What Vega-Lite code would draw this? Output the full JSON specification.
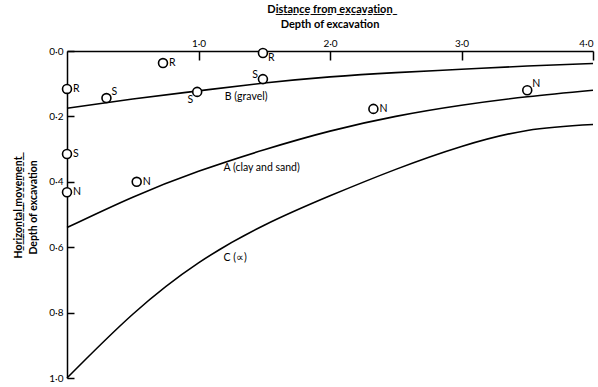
{
  "$schema": "https://vega.github.io/schema/vega-lite/v6.json",
  "width": 526,
  "height": 327,
  "autosize": "none",
  "padding": {"left": 67, "top": 51, "right": 5, "bottom": 9},
  "background": "white",
  "title": {
    "text": "D̲i̲s̲t̲a̲n̲c̲e̲ ̲f̲r̲o̲m̲ ̲e̲x̲c̲a̲v̲a̲t̲i̲o̲n̲",
    "subtitle": "Depth of excavation",
    "anchor": "middle",
    "font": "Lato",
    "fontSize": 11,
    "fontWeight": "bold",
    "subtitleFont": "Lato",
    "subtitleFontSize": 11,
    "subtitleFontWeight": "bold",
    "subtitleColor": "black",
    "subtitlePadding": 4,
    "color": "black",
    "offset": 8
  },
  "config": {
    "view": {"stroke": null},
    "axis": {
      "grid": false,
      "domainColor": "black",
      "domainWidth": 1.5,
      "tickColor": "black",
      "tickWidth": 1.5,
      "labelFont": "Lato",
      "labelFontSize": 10,
      "labelColor": "black",
      "titleFont": "Lato",
      "titleColor": "black"
    }
  },
  "datasets": {
    "curves": [
      {"curve": "B", "x": 0, "y": 0.175},
      {"curve": "B", "x": 0.5, "y": 0.147},
      {"curve": "B", "x": 1.0, "y": 0.122},
      {"curve": "B", "x": 1.5, "y": 0.098},
      {"curve": "B", "x": 2.0, "y": 0.079},
      {"curve": "B", "x": 2.5, "y": 0.066},
      {"curve": "B", "x": 3.0, "y": 0.056},
      {"curve": "B", "x": 3.5, "y": 0.046},
      {"curve": "B", "x": 4.0, "y": 0.038},
      {"curve": "A", "x": 0, "y": 0.54},
      {"curve": "A", "x": 0.5, "y": 0.447},
      {"curve": "A", "x": 1.0, "y": 0.368},
      {"curve": "A", "x": 1.5, "y": 0.302},
      {"curve": "A", "x": 2.0, "y": 0.245},
      {"curve": "A", "x": 2.5, "y": 0.2},
      {"curve": "A", "x": 3.0, "y": 0.166},
      {"curve": "A", "x": 3.5, "y": 0.14},
      {"curve": "A", "x": 4.0, "y": 0.12},
      {"curve": "C", "x": 0, "y": 1.0},
      {"curve": "C", "x": 0.5, "y": 0.805},
      {"curve": "C", "x": 1.0, "y": 0.648},
      {"curve": "C", "x": 1.5, "y": 0.533},
      {"curve": "C", "x": 2.0, "y": 0.443},
      {"curve": "C", "x": 2.5, "y": 0.362},
      {"curve": "C", "x": 3.0, "y": 0.292},
      {"curve": "C", "x": 3.5, "y": 0.243},
      {"curve": "C", "x": 4.0, "y": 0.225}
    ],
    "curveLabels": [
      {"label": "B (gravel)", "x": 1.2, "y": 0.142},
      {"label": "A (clay and sand)", "x": 1.19, "y": 0.357},
      {"label": "C (∝)", "x": 1.19, "y": 0.633}
    ],
    "ptRight": [
      {"label": "R", "x": 0, "y": 0.116},
      {"label": "S", "x": 0, "y": 0.315},
      {"label": "N", "x": 0, "y": 0.432},
      {"label": "R", "x": 0.73, "y": 0.037},
      {"label": "N", "x": 0.53, "y": 0.4},
      {"label": "N", "x": 2.33, "y": 0.177}
    ],
    "ptUpRight": [
      {"label": "S", "x": 0.3, "y": 0.144},
      {"label": "N", "x": 3.5, "y": 0.12}
    ],
    "ptLowRight": [
      {"label": "R", "x": 1.49, "y": 0.006}
    ],
    "ptLowLeft": [
      {"label": "S", "x": 0.99, "y": 0.125}
    ],
    "ptUpLeft": [
      {"label": "S", "x": 1.49, "y": 0.086}
    ]
  },
  "encoding": {
    "x": {
      "field": "x", "type": "quantitative",
      "scale": {"domain": [0, 4], "nice": false, "zero": false},
      "axis": {
        "orient": "top",
        "values": [1, 2, 3, 4],
        "tickSize": -9,
        "labelPadding": 12,
        "labelExpr": "replace(format(datum.value, '.1f'), '.', '·')",
        "title": null
      }
    },
    "y": {
      "field": "y", "type": "quantitative",
      "scale": {"domain": [0, 1], "reverse": true, "nice": false},
      "axis": {
        "orient": "left",
        "values": [0, 0.2, 0.4, 0.6, 0.8, 1.0],
        "tickSize": -7,
        "labelPadding": 11,
        "labelExpr": "replace(format(datum.value, '.1f'), '.', '·')",
        "title": ["H̲o̲r̲i̲z̲o̲n̲t̲a̲l̲ ̲m̲o̲v̲e̲m̲e̲n̲t̲", "Depth of excavation"],
        "titleFontSize": 10.5,
        "titleFontWeight": "bold",
        "titleLineHeight": 15,
        "titlePadding": 10,
        "titleY": 156
      }
    }
  },
  "layer": [
    {
      "data": {"name": "curves"},
      "mark": {"type": "line", "color": "black", "strokeWidth": 1.6, "interpolate": "natural"},
      "encoding": {"detail": {"field": "curve"}}
    },
    {
      "data": {"name": "curveLabels"},
      "mark": {"type": "text", "align": "left", "baseline": "middle", "font": "Lato", "fontSize": 10.5, "color": "black"},
      "encoding": {"text": {"field": "label"}}
    },
    {
      "data": {"name": "ptRight"},
      "layer": [
        {"mark": {"type": "point", "shape": "circle", "size": 80, "filled": true, "fill": "white", "stroke": "black", "strokeWidth": 1.6, "opacity": 1}},
        {"mark": {"type": "text", "align": "left", "baseline": "middle", "dx": 6, "font": "Lato", "fontSize": 10.5, "color": "black"}, "encoding": {"text": {"field": "label"}}}
      ]
    },
    {
      "data": {"name": "ptUpRight"},
      "layer": [
        {"mark": {"type": "point", "shape": "circle", "size": 80, "filled": true, "fill": "white", "stroke": "black", "strokeWidth": 1.6, "opacity": 1}},
        {"mark": {"type": "text", "align": "left", "baseline": "middle", "dx": 5, "dy": -6, "font": "Lato", "fontSize": 10.5, "color": "black"}, "encoding": {"text": {"field": "label"}}}
      ]
    },
    {
      "data": {"name": "ptLowRight"},
      "layer": [
        {"mark": {"type": "point", "shape": "circle", "size": 80, "filled": true, "fill": "white", "stroke": "black", "strokeWidth": 1.6, "opacity": 1}},
        {"mark": {"type": "text", "align": "left", "baseline": "middle", "dx": 5, "dy": 5, "font": "Lato", "fontSize": 10.5, "color": "black"}, "encoding": {"text": {"field": "label"}}}
      ]
    },
    {
      "data": {"name": "ptLowLeft"},
      "layer": [
        {"mark": {"type": "point", "shape": "circle", "size": 80, "filled": true, "fill": "white", "stroke": "black", "strokeWidth": 1.6, "opacity": 1}},
        {"mark": {"type": "text", "align": "right", "baseline": "middle", "dx": -4, "dy": 8, "font": "Lato", "fontSize": 10.5, "color": "black"}, "encoding": {"text": {"field": "label"}}}
      ]
    },
    {
      "data": {"name": "ptUpLeft"},
      "layer": [
        {"mark": {"type": "point", "shape": "circle", "size": 80, "filled": true, "fill": "white", "stroke": "black", "strokeWidth": 1.6, "opacity": 1}},
        {"mark": {"type": "text", "align": "right", "baseline": "middle", "dx": -5, "dy": -4, "font": "Lato", "fontSize": 10.5, "color": "black"}, "encoding": {"text": {"field": "label"}}}
      ]
    }
  ]
}
